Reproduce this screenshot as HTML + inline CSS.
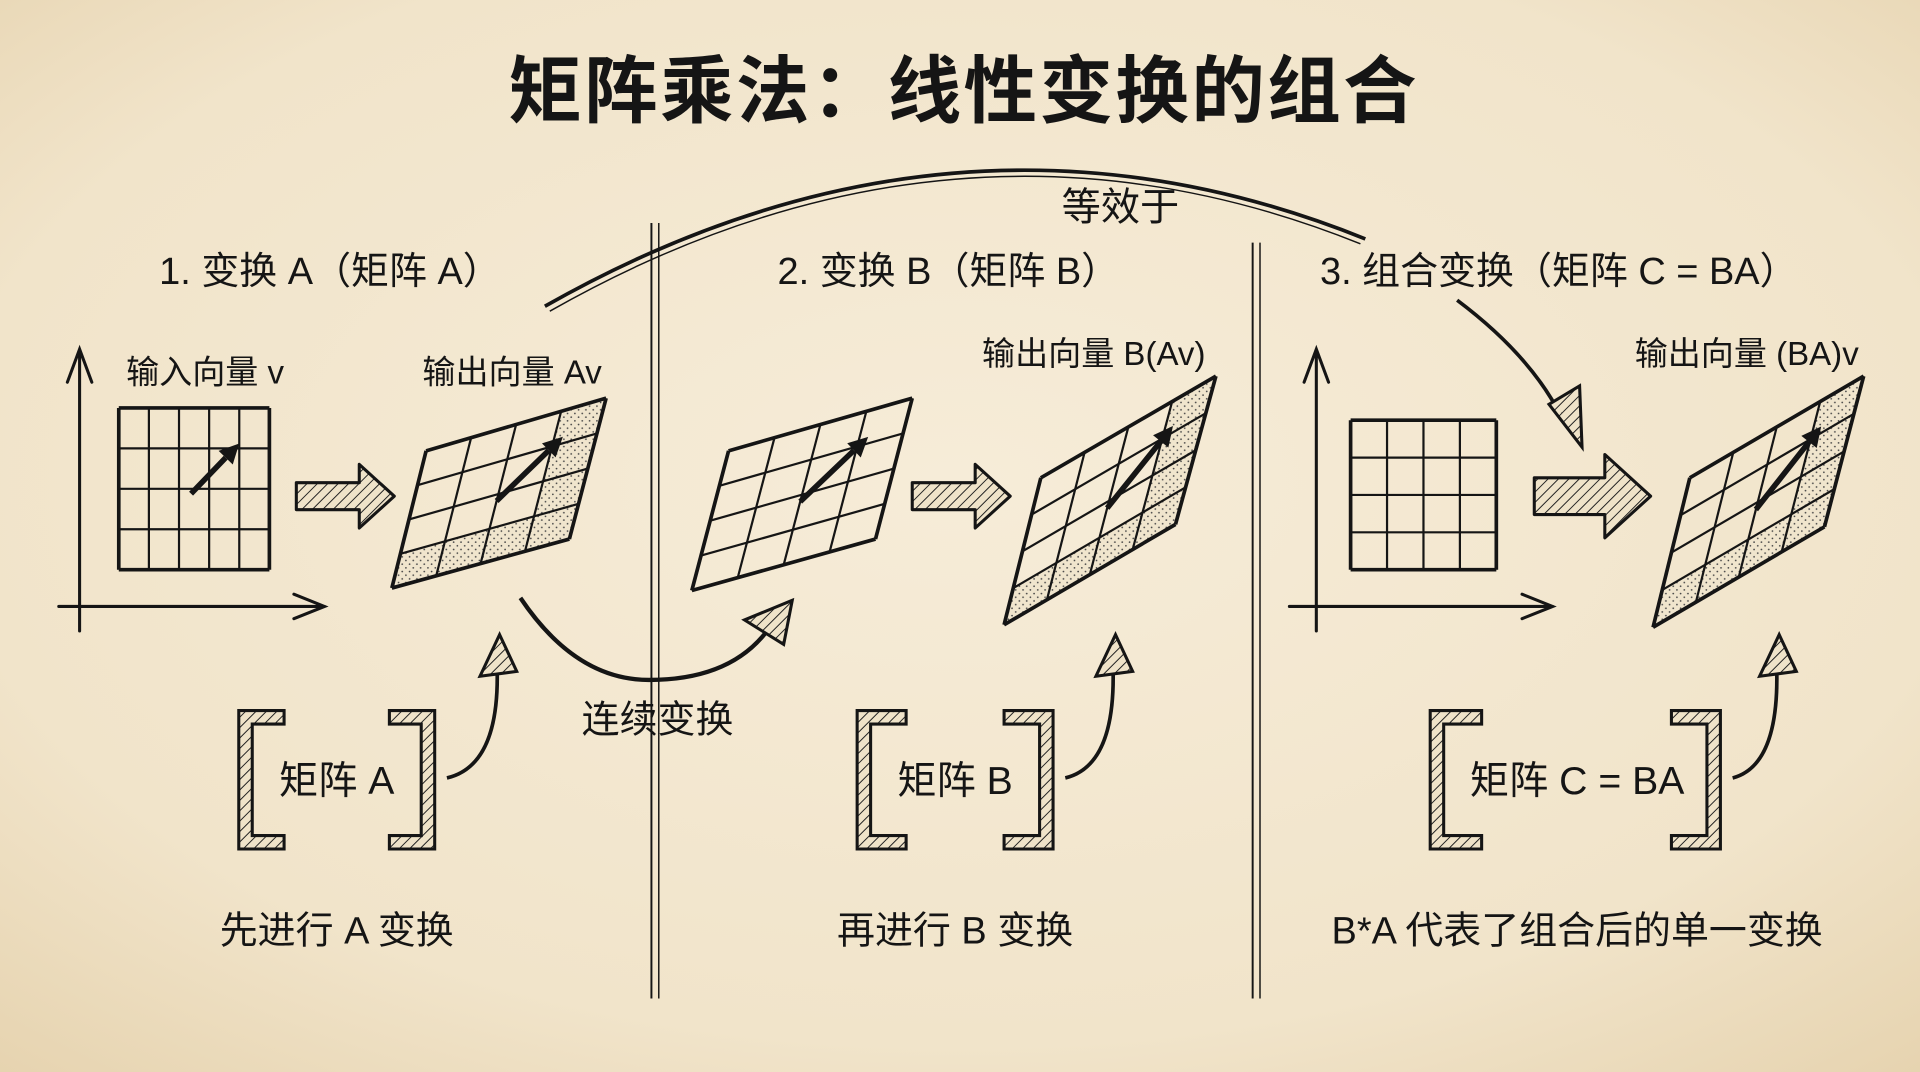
<!DOCTYPE html>
<html><head><meta charset="utf-8">
<style>
html,body{margin:0;padding:0;width:1920px;height:1072px;overflow:hidden;background:#f3e7cf;}
svg{display:block}
text{font-family:"Liberation Sans","Noto Sans CJK SC",sans-serif;fill:#151515;}
</style></head>
<body>
<svg id="s" width="1920" height="1072" viewBox="0 0 1568 875" preserveAspectRatio="none" xmlns="http://www.w3.org/2000/svg">
<defs>
<radialGradient id="bg" cx="50%" cy="45%" r="75%">
<stop offset="0" stop-color="#f6ecd8"/><stop offset="0.7" stop-color="#f1e4ca"/><stop offset="1" stop-color="#e6d3af"/>
</radialGradient>
<pattern id="hatch" width="6" height="6" patternUnits="userSpaceOnUse" patternTransform="rotate(45)">
<rect width="6" height="6" fill="#efe3c9"/><line x1="0" y1="0" x2="0" y2="6" stroke="#222" stroke-width="1.6"/>
</pattern>
<pattern id="dots" width="6" height="6" patternUnits="userSpaceOnUse">
<rect width="6" height="6" fill="#f0e5cd"/><circle cx="1.5" cy="1.5" r="0.7" fill="#444"/><circle cx="4.5" cy="4.5" r="0.7" fill="#444"/>
</pattern>
</defs>
<rect width="1568" height="875" fill="url(#bg)"/>

<text x="787" y="95" font-size="60" text-anchor="middle" font-weight="bold" letter-spacing="2">矩阵乘法：线性变换的组合</text>

<path d="M445 250 Q780 60 1115 195" fill="none" stroke="#151515" stroke-width="3"/>
<path d="M449 254 Q780 66 1111 199" fill="none" stroke="#151515" stroke-width="1.2"/>
<text x="915" y="180" font-size="32" text-anchor="middle">等效于</text>

<line x1="532" y1="182" x2="532" y2="815" stroke="#151515" stroke-width="1.6"/>
<line x1="538" y1="182" x2="538" y2="815" stroke="#151515" stroke-width="1.2"/>
<line x1="1023" y1="198" x2="1023" y2="815" stroke="#151515" stroke-width="1.6"/>
<line x1="1029" y1="198" x2="1029" y2="815" stroke="#151515" stroke-width="1.2"/>

<text x="130" y="232" font-size="31">1. 变换 A（矩阵 A）</text>
<text x="635" y="232" font-size="31">2. 变换 B（矩阵 B）</text>
<text x="1078" y="232" font-size="31">3. 组合变换（矩阵 C = BA）</text>

<text x="103" y="313" font-size="27">输入向量 v</text>
<text x="345" y="313" font-size="27">输出向量 Av</text>
<text x="802" y="298" font-size="27">输出向量 B(Av)</text>
<text x="1335" y="298" font-size="27">输出向量 (BA)v</text>

<g id="dyn"></g>

<g stroke="#151515" stroke-width="2.5" fill="none" stroke-linecap="round">
<path d="M65 515 V285 M55 312 L65 285 L75 312"/>
<path d="M48 495 H265 M240 485 L265 495 L240 505"/>
<path d="M1075 515 V285 M1065 312 L1075 285 L1085 312"/>
<path d="M1053 495 H1268 M1243 485 L1268 495 L1243 505"/>
</g>

<path d="M425 488 Q470 555 530 555 Q600 555 630 510" fill="none" stroke="#151515" stroke-width="3.5"/>
<polygon points="647,490 608,506 640,526" fill="url(#hatch)" stroke="#151515" stroke-width="2.5"/>
<text x="537" y="598" font-size="31" text-anchor="middle">连续变换</text>

<path d="M1190 245 Q1250 290 1275 340" fill="none" stroke="#151515" stroke-width="3"/>
<polygon points="1292,365 1265,330 1290,315" fill="url(#hatch)" stroke="#151515" stroke-width="2.5"/>

<text x="275" y="770" font-size="31" text-anchor="middle">先进行 A 变换</text>
<text x="780" y="770" font-size="31" text-anchor="middle">再进行 B 变换</text>
<text x="1288" y="770" font-size="31" text-anchor="middle">B*A 代表了组合后的单一变换</text>

<text x="275" y="648" font-size="32" text-anchor="middle">矩阵 A</text>
<text x="780" y="648" font-size="32" text-anchor="middle">矩阵 B</text>
<text x="1288" y="648" font-size="32" text-anchor="middle">矩阵 C = BA</text>
</svg>
<script>
(function(){
var NS="http://www.w3.org/2000/svg",g=document.getElementById("dyn");
function el(t,a){var e=document.createElementNS(NS,t);for(var k in a)e.setAttribute(k,a[k]);g.appendChild(e);return e;}
function lerp(a,b,t){return [a[0]+(b[0]-a[0])*t,a[1]+(b[1]-a[1])*t];}
function pt(TL,TR,BL,BR,u,v){var a=lerp(TL,TR,u),b=lerp(BL,BR,u);return lerp(a,b,v);}
function grid(TL,TR,BL,BR,C,R,shade,arrow){
 if(shade){
  for(var r=0;r<R;r++)for(var c=0;c<C;c++){
   if(c==C-1||r==R-1){
    var p=[pt(TL,TR,BL,BR,c/C,r/R),pt(TL,TR,BL,BR,(c+1)/C,r/R),pt(TL,TR,BL,BR,(c+1)/C,(r+1)/R),pt(TL,TR,BL,BR,c/C,(r+1)/R)];
    el("polygon",{points:p.map(function(q){return q.join(",")}).join(" "),fill:"url(#dots)"});
   }
  }
 }
 for(var i=0;i<=C;i++){var a=pt(TL,TR,BL,BR,i/C,0),b=pt(TL,TR,BL,BR,i/C,1);
  el("line",{x1:a[0],y1:a[1],x2:b[0],y2:b[1],stroke:"#151515","stroke-width":(i==0||i==C)?3:1.8});}
 for(var j=0;j<=R;j++){var a=pt(TL,TR,BL,BR,0,j/R),b=pt(TL,TR,BL,BR,1,j/R);
  el("line",{x1:a[0],y1:a[1],x2:b[0],y2:b[1],stroke:"#151515","stroke-width":(j==0||j==R)?3:1.8});}
 if(arrow){
  var s=pt(TL,TR,BL,BR,arrow[0],arrow[1]),e=pt(TL,TR,BL,BR,arrow[2],arrow[3]);
  var dx=e[0]-s[0],dy=e[1]-s[1],L=Math.sqrt(dx*dx+dy*dy),ux=dx/L,uy=dy/L;
  var bx=e[0]-ux*16,by=e[1]-uy*16;
  el("line",{x1:s[0],y1:s[1],x2:bx,y2:by,stroke:"#151515","stroke-width":4.5});
  el("polygon",{points:e[0]+","+e[1]+" "+(bx-uy*8)+","+(by+ux*8)+" "+(bx+uy*8)+","+(by-ux*8),fill:"#151515"});
 }
}
grid([97,333],[220,333],[97,465],[220,465],5,4,false,[0.48,0.53,0.8,0.22]);
grid([348,368],[495,325],[320,480],[465,440],4,4,true,[0.5,0.55,0.8,0.2]);
grid([595,368],[745,325],[565,482],[715,440],4,4,false,[0.5,0.55,0.8,0.2]);
grid([850,390],[993,307],[820,510],[960,428],4,4,true,[0.5,0.55,0.8,0.2]);
grid([1103,343],[1222,343],[1103,465],[1222,465],4,4,false,null);
grid([1380,390],[1522,307],[1350,512],[1490,430],4,4,true,[0.5,0.55,0.8,0.2]);
function blk(x1,x2,cy,h,hh){
 var hx=x2-(hh*1.1);
 el("polygon",{points:[x1,cy-h/2,hx,cy-h/2,hx,cy-hh,x2,cy,hx,cy+hh,hx,cy+h/2,x1,cy+h/2].join(" "),fill:"url(#hatch)",stroke:"#151515","stroke-width":2.5,"stroke-linejoin":"round"});
}
blk(242,322,405,22,26);blk(745,825,405,22,26);blk(1253,1348,405,30,34);
function br(x1,x2,y1,y2,left){
 var w=11;
 var pts=left?[x1,y1,x2,y1,x2,y1+w,x1+w,y1+w,x1+w,y2-w,x2,y2-w,x2,y2,x1,y2]
            :[x1,y1,x2,y1,x2,y2,x1,y2,x1,y2-w,x2-w,y2-w,x2-w,y1+w,x1,y1+w];
 el("polygon",{points:pts.join(" "),fill:"url(#hatch)",stroke:"#151515","stroke-width":2.5});
}
br(195,232,580,693,true);br(318,355,580,693,false);
br(700,740,580,693,true);br(820,860,580,693,false);
br(1168,1210,580,693,true);br(1365,1405,580,693,false);
function cur(sx,sy,ex,ey){
 el("path",{d:"M"+sx+" "+sy+" Q"+(ex-2)+" "+(sy-10)+" "+(ex-4)+" "+(ey+28),fill:"none",stroke:"#151515","stroke-width":3});
 el("polygon",{points:(ex-2)+","+ey+" "+(ex-18)+","+(ey+34)+" "+(ex+12)+","+(ey+30),fill:"url(#hatch)",stroke:"#151515","stroke-width":2.5});
}
cur(365,635,410,518);cur(870,635,913,518);cur(1415,635,1455,518);
})();
</script>
</body></html>
